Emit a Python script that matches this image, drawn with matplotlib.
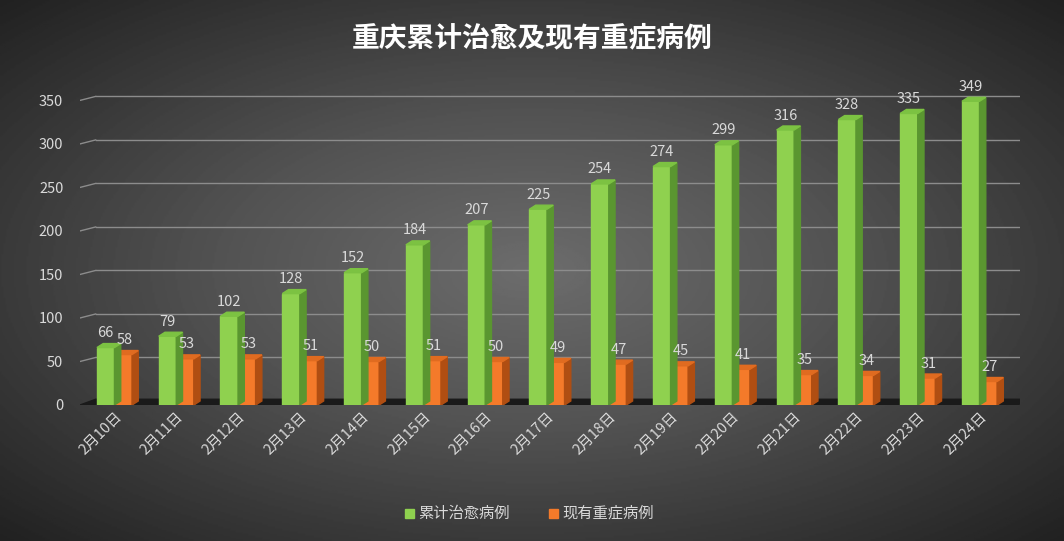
import matplotlib.pyplot as plt
import numpy as np
from matplotlib import font_manager
from matplotlib.patches import Polygon, Rectangle

# find a CJK font file and register it
cjk = [f for f in font_manager.findSystemFonts() if "CJK" in f or "cjk" in f.lower()]
fams = []
for f in cjk:
    try:
        font_manager.fontManager.addfont(f)
        fams.append(font_manager.FontProperties(fname=f).get_name())
    except Exception:
        pass
plt.rcParams["font.family"] = ["Noto Sans CJK SC"] + fams + ["DejaVu Sans"]

dates = ["2月10日", "2月11日", "2月12日", "2月13日", "2月14日", "2月15日", "2月16日",
         "2月17日", "2月18日", "2月19日", "2月20日", "2月21日", "2月22日", "2月23日", "2月24日"]
cured = [66, 79, 102, 128, 152, 184, 207, 225, 254, 274, 299, 316, 328, 335, 349]
severe = [58, 53, 53, 51, 50, 51, 50, 49, 47, 45, 41, 35, 34, 31, 27]

W, H = 1064, 541
fig = plt.figure(figsize=(W / 100, H / 100), dpi=100)

# radial gradient background
bg = fig.add_axes([0, 0, 1, 1])
yy, xx = np.mgrid[0:1:300j, 0:1:600j]
r = np.sqrt(((xx - 0.5) / 0.75) ** 2 + ((yy - 0.5) / 0.75) ** 2)
bg.imshow(np.clip(r, 0, 1), cmap="Greys", vmin=-2.6, vmax=1.4, aspect="auto",
          extent=[0, 1, 0, 1])
bg.axis("off")

ax = fig.add_axes([80 / W, (H - 405) / H, 940 / W, 322 / H])
ax.set_xlim(0, 15)
ax.set_ylim(0, 370)
ax.patch.set_alpha(0)
for s in ax.spines.values():
    s.set_visible(False)

dx, dy = 0.1, 4.6
bw = 0.28
for v in range(50, 351, 50):
    ax.plot([0.25, 15], [v + dy, v + dy], color="#8c8c8c", lw=1, zorder=0)
    ax.plot([0, 0.25], [v, v + dy], color="#8c8c8c", lw=1, zorder=0)
# floor
ax.add_patch(Polygon([[0, 0], [14.95, 0], [15.2, dy + 2], [0.25, dy + 2]],
                     closed=True, color="#1a1a1a", zorder=0.5))


def bar3d(x0, h, front, side, top):
    ax.add_patch(Rectangle((x0, 0), bw, h, color=front, zorder=2))
    ax.add_patch(Polygon([[x0 + bw, 0], [x0 + bw + dx, dy], [x0 + bw + dx, h + dy],
                          [x0 + bw, h]], closed=True, color=side, zorder=2))
    ax.add_patch(Polygon([[x0, h], [x0 + dx, h + dy], [x0 + bw + dx, h + dy],
                          [x0 + bw, h]], closed=True, color=top, zorder=2))


for i, (c, s) in enumerate(zip(cured, severe)):
    xg = i * 0.986 + 0.27
    bar3d(xg + bw, s, "#f47a2a", "#b04e12", "#e06b20")
    bar3d(xg, c, "#8fd14f", "#5a9630", "#7cc242")
    ax.text(xg + bw / 2, c + dy + 4, str(c), ha="center", va="bottom",
            color="#d9d9d9", fontsize=10.5, zorder=3)
    ax.text(xg + bw * 1.6, s + dy + 4, str(s), ha="center", va="bottom",
            color="#d9d9d9", fontsize=10.5, zorder=3)

ax.set_yticks(range(0, 351, 50))
ax.set_xticks([i * 0.986 + 0.27 + bw for i in range(15)])
ax.set_xticklabels(dates, rotation=45, ha="right", rotation_mode="anchor")
ax.tick_params(colors="#d9d9d9", labelsize=10.5, length=0)
ax.tick_params(axis="y", pad=12)

fig.text(0.5, 0.93, "重庆累计治愈及现有重症病例", ha="center", va="center",
         color="white", fontsize=20, fontweight="bold")

fig.add_artist(Rectangle((405 / W, (H - 518) / H), 9 / W, 9 / H, color="#8fd14f"))
fig.text(418 / W, (H - 513) / H, "累计治愈病例", va="center", color="#d9d9d9", fontsize=11)
fig.add_artist(Rectangle((549 / W, (H - 518) / H), 9 / W, 9 / H, color="#f47a2a"))
fig.text(562 / W, (H - 513) / H, "现有重症病例", va="center", color="#d9d9d9", fontsize=11)

fig.savefig("out.png", dpi=100)
